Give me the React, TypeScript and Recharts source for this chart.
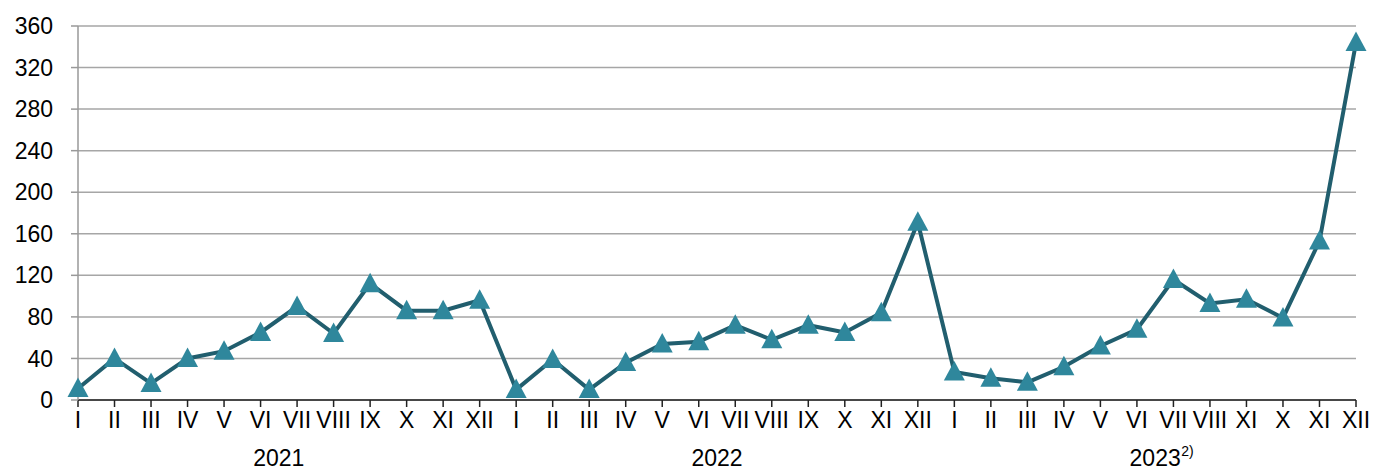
import { LineChart, Line, XAxis, YAxis, CartesianGrid } from 'recharts'

const YEARS = ['2021', '2022', '2023']
const MONTHS = ['I', 'II', 'III', 'IV', 'V', 'VI', 'VII', 'VIII', 'IX', 'X', 'XI', 'XII']
// the source labels September 2023 as "XI"
const MONTHS_2023 = ['I', 'II', 'III', 'IV', 'V', 'VI', 'VII', 'VIII', 'XI', 'X', 'XI', 'XII']
const VALUES_2021 = [11, 40, 16, 40, 47, 65, 90, 64, 112, 86, 86, 96]
const VALUES_2022 = [10, 39, 10, 36, 54, 56, 72, 58, 72, 65, 84, 171]
const VALUES_2023 = [27, 21, 17, 32, 52, 68, 116, 93, 97, 79, 153, 344]
const Y_TICKS = [0, 40, 80, 120, 160, 200, 240, 280, 320, 360]

const CHART_W = 1373
const CHART_H = 471
const Y_AXIS_W = 78
const RIGHT = 17
const FONT = '"Liberation Sans", Arial, sans-serif'
const FS = 23

const data = [
  ...MONTHS.map((m, i) => ({ key: `2021-${i}`, label: m, value: VALUES_2021[i] })),
  ...MONTHS.map((m, i) => ({ key: `2022-${i}`, label: m, value: VALUES_2022[i] })),
  ...MONTHS_2023.map((m, i) => ({ key: `2023-${i}`, label: m, value: VALUES_2023[i] })),
]

const step = (CHART_W - Y_AXIS_W - RIGHT) / (data.length - 1)

function MonthTick(props: any) {
  const { x, y, index } = props
  const row = data[index]
  const year = YEARS[Math.floor(index / 12)]
  const cx = x + step / 2
  return (
    <g>
      <text x={x} y={y} dy="0.71em" textAnchor="middle" fill="#000" fontSize={FS} fontFamily={FONT}>
        {row?.label}
      </text>
      {index % 12 === 5 && (
        <text x={cx} y={y + 54} textAnchor="middle" fill="#000" fontSize={FS} fontFamily={FONT}>
          {year}
        </text>
      )}
      {index % 12 === 5 && year === '2023' && (
        <text x={cx + 26} y={y + 44} textAnchor="start" fill="#000" fontSize={14} fontFamily={FONT}>
          2)
        </text>
      )}
    </g>
  )
}

function TriangleDot({ cx, cy }: any) {
  if (cx == null || cy == null) return null
  return <path d={`M${cx},${cy - 11} L${cx + 10.5},${cy + 8.5} L${cx - 10.5},${cy + 8.5} Z`} fill="#2f879c" />
}

export default function App() {
  return (
    <div style={{ position: 'absolute', left: 0, top: 0, background: '#fff' }}>
      <LineChart width={CHART_W} height={CHART_H} data={data} margin={{ top: 26, right: RIGHT, bottom: 0, left: 0 }}>
        <CartesianGrid vertical={false} stroke="#a6a6a6" strokeWidth={1.5} />
        <XAxis
          dataKey="key"
          interval={0}
          height={71}
          tick={<MonthTick />}
          tickSize={7}
          tickMargin={5}
          axisLine={{ stroke: '#222', strokeWidth: 1.5 }}
          tickLine={{ stroke: '#222', strokeWidth: 1.5 }}
        />
        <YAxis
          width={Y_AXIS_W}
          domain={[0, 360]}
          ticks={Y_TICKS}
          interval={0}
          tickSize={7}
          tickMargin={18}
          tick={{ fill: '#000', fontSize: FS, fontFamily: FONT }}
          axisLine={{ stroke: '#999', strokeWidth: 1.5 }}
          tickLine={{ stroke: '#999', strokeWidth: 1.5 }}
        />
        <Line
          type="linear"
          dataKey="value"
          stroke="#215e6e"
          strokeWidth={4}
          dot={<TriangleDot />}
          activeDot={false}
          isAnimationActive={false}
        />
      </LineChart>
    </div>
  )
}
